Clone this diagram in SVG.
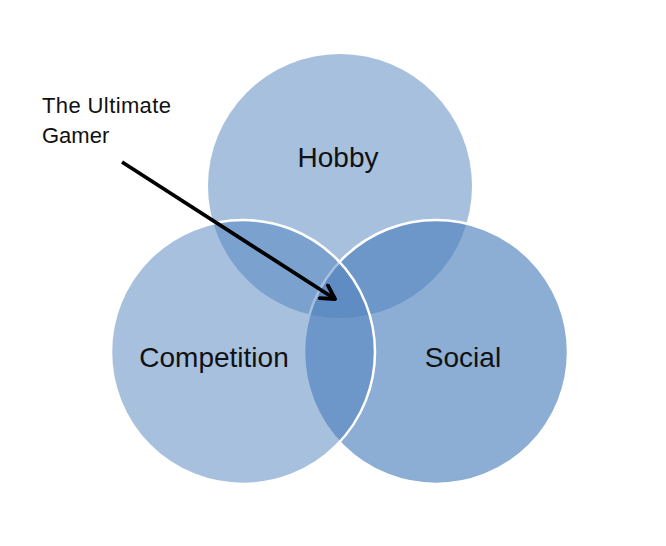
<svg xmlns="http://www.w3.org/2000/svg" width="666" height="546" viewBox="0 0 666 546">
<style>
.lbl{font-family:"Liberation Sans",Arial,sans-serif;font-size:28px;fill:#111;text-anchor:middle}
.note{font-family:"Liberation Sans",Arial,sans-serif;font-size:22px;fill:#111}
.c{fill:#4F81BD}
</style>
<defs>
<marker id="arr" viewBox="0 0 10 10" refX="8" refY="5" markerWidth="5" markerHeight="5" orient="auto" markerUnits="strokeWidth">
<path d="M1,1 L8,5 L1,9" fill="none" stroke="#000" stroke-width="2" stroke-linecap="round" stroke-linejoin="round"/>
</marker>
</defs>
<rect width="666" height="546" fill="#fff"/>
<g id="hobby">
<circle class="c" cx="340" cy="186" r="132" fill-opacity="0.5"/>
<text class="lbl" x="338" y="167">Hobby</text>
</g>
<g id="social">
<circle class="c" cx="436" cy="352" r="132" fill-opacity="0.65" stroke="#fff" stroke-width="2.5"/>
</g>
<g id="competition">
<circle class="c" cx="243" cy="352" r="132" fill-opacity="0.5" stroke="#fff" stroke-width="2.5"/>
</g>
<text class="lbl" x="214" y="367">Competition</text>
<text class="lbl" x="463" y="367">Social</text>
<g id="ultimate-gamer">
<text class="note" x="42" y="113" textLength="129" lengthAdjust="spacing">The Ultimate</text>
<text class="note" x="42" y="143">Gamer</text>
</g>
<g id="connectors">
<line x1="122" y1="162" x2="335" y2="299" stroke="#000" stroke-width="3.8" marker-end="url(#arr)"/>
</g>
</svg>
